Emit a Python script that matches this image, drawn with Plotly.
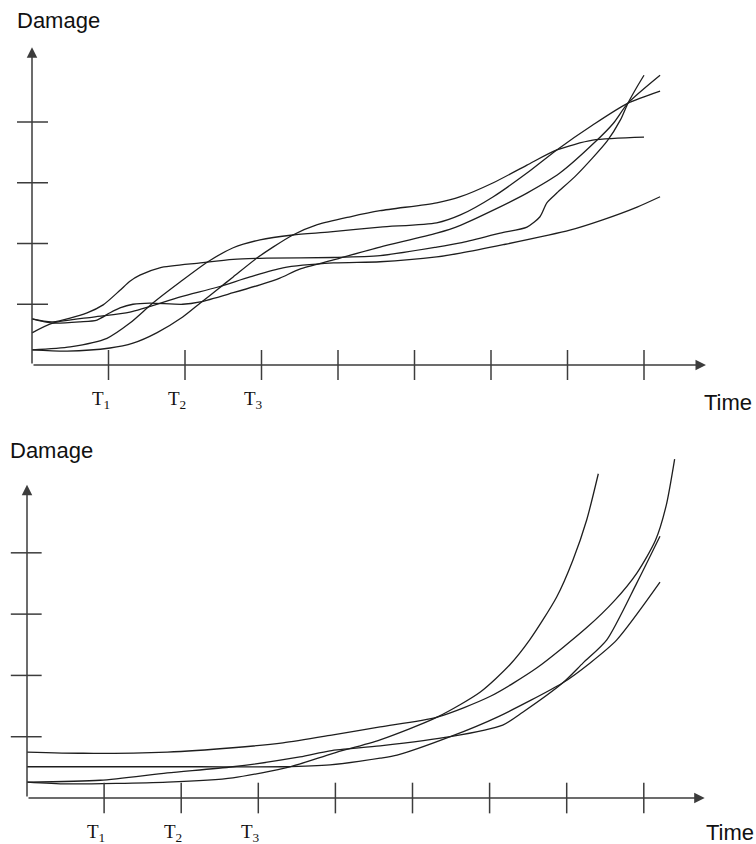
import plotly.graph_objects as go

# ---------------- Data (time in tick units, damage in tick units) ----------------
time_ticks = [1, 2, 3, 4, 5, 6, 7, 8]
damage_ticks = [1, 2, 3, 4]
time_labels = ["T<sub>1</sub>", "T<sub>2</sub>", "T<sub>3</sub>"]

# Top panel: five damage histories
top_a_t = [0, 0.46, 1.02, 1.32, 1.63, 1.97, 2.20, 2.42, 2.63, 2.94, 3.15, 3.41, 3.73, 4.16, 4.55, 5.29, 5.60, 6.03, 6.47, 6.86, 7.33, 8.00]
top_a_d = [0.25, 0.23, 0.28, 0.36, 0.53, 0.79, 1.02, 1.24, 1.45, 1.76, 1.94, 2.14, 2.31, 2.44, 2.54, 2.67, 2.77, 3.00, 3.29, 3.54, 3.70, 3.75]

top_b_t = [0, 0.50, 0.98, 1.28, 1.58, 1.94, 2.30, 2.63, 2.98, 3.41, 3.90, 4.55, 5.29, 5.60, 6.03, 6.47, 6.86, 7.33, 7.79, 8.21]
top_b_d = [0.25, 0.30, 0.44, 0.69, 1.02, 1.37, 1.70, 1.93, 2.06, 2.14, 2.19, 2.27, 2.34, 2.47, 2.77, 3.16, 3.54, 3.95, 4.31, 4.51]

top_c_t = [0, 0.27, 0.72, 0.93, 1.15, 1.28, 1.41, 1.67, 2.20, 2.63, 3.07, 3.94, 4.55, 5.29, 5.60, 6.12, 6.47, 6.64, 6.73, 6.86, 7.12, 7.52, 7.69, 7.79, 7.90, 8.00]
top_c_d = [0.76, 0.71, 0.86, 0.99, 1.23, 1.38, 1.48, 1.60, 1.68, 1.74, 1.76, 1.77, 1.80, 1.94, 2.01, 2.17, 2.27, 2.44, 2.67, 2.83, 3.13, 3.69, 4.03, 4.31, 4.56, 4.77]

top_d_t = [0, 0.27, 0.63, 0.85, 1.02, 1.15, 1.32, 1.54, 1.97, 2.20, 2.63, 2.98, 3.24, 3.50, 3.94, 4.55, 5.29, 5.60, 6.03, 6.47, 6.90, 7.36, 7.60, 7.79, 8.21]
top_d_d = [0.76, 0.69, 0.71, 0.74, 0.86, 0.94, 1.00, 1.02, 1.00, 1.04, 1.19, 1.32, 1.43, 1.58, 1.73, 1.94, 2.17, 2.30, 2.55, 2.83, 3.16, 3.67, 3.98, 4.31, 4.77]

top_e_t = [0, 0.27, 0.80, 1.28, 1.94, 2.42, 2.85, 3.28, 3.94, 4.55, 5.29, 5.60, 6.16, 7.03, 7.46, 7.91, 8.21]
top_e_d = [0.53, 0.69, 0.79, 0.87, 1.12, 1.28, 1.45, 1.60, 1.68, 1.70, 1.78, 1.84, 1.98, 2.22, 2.39, 2.60, 2.77]

# Bottom panel: four damage histories
bot_a_t = [0, 0.73, 1.82, 2.67, 3.32, 3.97, 4.58, 5.32, 6.01, 6.61, 7.26, 7.62, 7.91, 8.15, 8.29, 8.40]
bot_a_d = [0.75, 0.73, 0.75, 0.82, 0.90, 1.03, 1.16, 1.32, 1.66, 2.12, 2.78, 3.22, 3.67, 4.20, 4.77, 5.53]

bot_b_t = [0, 0.52, 1.82, 2.67, 3.41, 3.97, 4.58, 5.32, 5.88, 6.26, 6.52, 6.87, 7.08, 7.26, 7.41]
bot_b_d = [0.26, 0.23, 0.26, 0.33, 0.51, 0.73, 0.95, 1.32, 1.73, 2.17, 2.58, 3.28, 3.88, 4.54, 5.29]

bot_c_t = [0, 0.95, 1.82, 2.67, 3.54, 3.93, 4.58, 5.49, 6.17, 6.43, 6.95, 7.21, 7.52, 7.91, 8.21]
bot_c_d = [0.26, 0.29, 0.41, 0.51, 0.67, 0.77, 0.85, 1.00, 1.19, 1.40, 1.88, 2.20, 2.58, 3.51, 4.27]

bot_d_t = [0, 0.95, 2.24, 3.32, 3.93, 4.58, 4.80, 5.49, 6.10, 6.95, 7.30, 7.65, 8.21]
bot_d_d = [0.51, 0.51, 0.51, 0.51, 0.54, 0.65, 0.70, 1.00, 1.32, 1.88, 2.20, 2.58, 3.52]

top_series = [(top_a_t, top_a_d), (top_b_t, top_b_d), (top_c_t, top_c_d), (top_d_t, top_d_d), (top_e_t, top_e_d)]
bot_series = [(bot_a_t, bot_a_d), (bot_b_t, bot_b_d), (bot_c_t, bot_c_d), (bot_d_t, bot_d_d)]

CURVE = dict(color="#1e1e1e", width=1.3, shape="spline", smoothing=0.7)
AXC = "#3c3c3c"

# The page margin is removed (see post_script) so the figure fills the window.
OFF = 0
W, H = 756 - OFF, 844 - OFF

fig = go.Figure()
for t, d in top_series:
    fig.add_trace(go.Scatter(x=t, y=d, mode="lines", line=CURVE, xaxis="x", yaxis="y", hoverinfo="skip"))
for t, d in bot_series:
    fig.add_trace(go.Scatter(x=t, y=d, mode="lines", line=CURVE, xaxis="x2", yaxis="y2", hoverinfo="skip"))

shapes = []
annotations = []

panels = [
    dict(xr="x", yr="y", xt=0.247, yt=(-0.196, 0.209), xtip=8.81, ytip=5.23),
    dict(xr="x2", yr="y2", xt=0.25, yt=(-0.21, 0.19), xtip=8.79, ytip=5.11),
]
for p in panels:
    for t in time_ticks:
        shapes.append(dict(type="line", xref=p["xr"], yref=p["yr"], x0=t, x1=t, y0=-p["xt"], y1=p["xt"],
                           line=dict(color=AXC, width=1.5)))
    for d in damage_ticks:
        shapes.append(dict(type="line", xref=p["xr"], yref=p["yr"], x0=p["yt"][0], x1=p["yt"][1], y0=d, y1=d,
                           line=dict(color=AXC, width=1.5)))
    annotations.append(dict(x=p["xtip"], y=0, ax=0, ay=0, xref=p["xr"], yref=p["yr"], axref=p["xr"], ayref=p["yr"],
                            text="", showarrow=True, arrowhead=2, arrowsize=1.4, arrowwidth=1.5, arrowcolor=AXC))
    annotations.append(dict(x=0, y=p["ytip"], ax=0, ay=0, xref=p["xr"], yref=p["yr"], axref=p["xr"], ayref=p["yr"],
                            text="", showarrow=True, arrowhead=2, arrowsize=1.4, arrowwidth=1.5, arrowcolor=AXC))
    for i, lab in enumerate(time_labels):
        annotations.append(dict(x=time_ticks[i], y=0, xref=p["xr"], yref=p["yr"], text=lab, showarrow=False,
                                xanchor="center", yanchor="middle", xshift=-8, yshift=-35,
                                font=dict(family="Liberation Serif, Times New Roman, serif", size=19, color="#111")))

SANS = dict(family="Liberation Sans, Arial, sans-serif", size=22, color="#111")


def px(x):
    return (x - OFF) / W


def py(y):
    return 1 - (y - OFF) / H


annotations += [
    dict(x=px(15), y=py(21), xref="paper", yref="paper", text="Damage", showarrow=False,
         xanchor="left", yanchor="middle", font=SANS),
    dict(x=px(8), y=py(450), xref="paper", yref="paper", text="Damage", showarrow=False,
         xanchor="left", yanchor="middle", font=SANS),
    dict(x=px(702), y=py(402), xref="paper", yref="paper", text="Time", showarrow=False,
         xanchor="left", yanchor="middle", font=SANS),
    dict(x=px(704), y=py(832), xref="paper", yref="paper", text="Time", showarrow=False,
         xanchor="left", yanchor="middle", font=SANS),
]

split = 1 - (422 - OFF) / H
fig.update_layout(
    width=W, height=H,
    margin=dict(l=0, r=0, t=0, b=0),
    paper_bgcolor="white", plot_bgcolor="white",
    showlegend=False,
    xaxis=dict(domain=[0, 1], range=[(OFF - 32) / 76.5, 724 / 76.5], visible=False, fixedrange=True),
    yaxis=dict(domain=[split, 1], range=[-0.938, (365 - OFF) / 60.75], visible=False, fixedrange=True),
    xaxis2=dict(domain=[0, 1], range=[(OFF - 27) / 77.1, 729 / 77.1], visible=False, anchor="y2", fixedrange=True),
    yaxis2=dict(domain=[0, split], range=[-0.750, 6.134], visible=False, anchor="x2", fixedrange=True),
    shapes=shapes,
    annotations=annotations,
)

fig.write_html("out.html", config={"displayModeBar": False},
               post_script="document.body.style.margin='0px';document.body.style.overflow='hidden';")
